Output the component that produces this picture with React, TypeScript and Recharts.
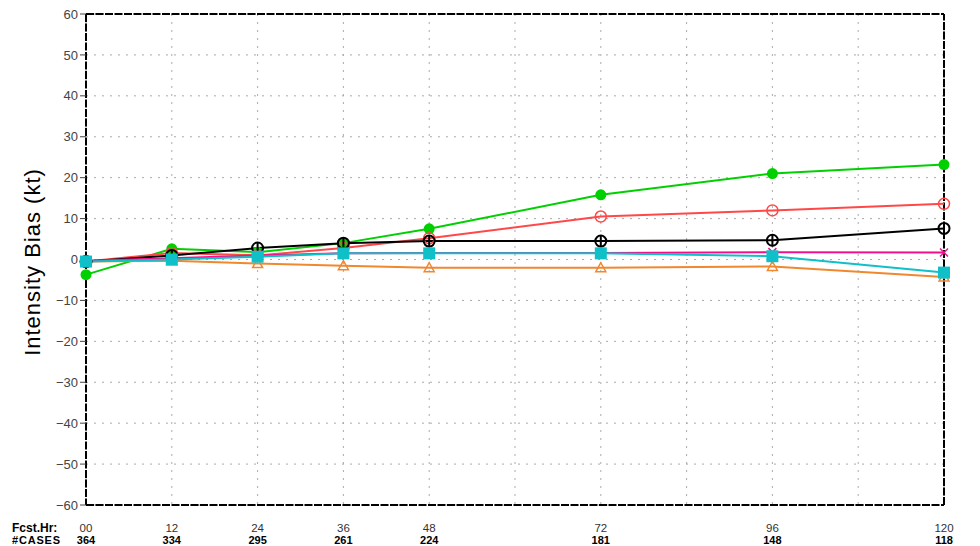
import React from 'react';
import { LineChart, Line, XAxis, YAxis, CartesianGrid, ReferenceLine } from 'recharts';

const HOURS = [0, 12, 24, 36, 48, 72, 96, 120];
const HOUR_LABELS = ['00', '12', '24', '36', '48', '72', '96', '120'];
const CASES = [364, 334, 295, 261, 224, 181, 148, 118];
const GRID_HOURS = [0, 12, 24, 36, 48, 60, 72, 84, 96, 108, 120];
const Y_TICKS = [-60, -50, -40, -30, -20, -10, 0, 10, 20, 30, 40, 50, 60];

const GREEN = [-3.7, 2.6, 1.8, 4, 7.5, 15.8, 21, 23.2];
const RED = [-0.5, 1.6, 1, 2.8, 5.2, 10.5, 12, 13.6];
const BLACK = [-0.5, 1, 2.8, 4, 4.5, 4.5, 4.7, 7.6];
const ORANGE = [-0.5, -0.3, -1, -1.5, -2, -2, -1.7, -4.3];
const MAGENTA = [-0.3, 0.3, 1, 1.5, 1.6, 1.6, 1.8, 1.7];
const CYAN = [-0.5, 0, 0.7, 1.5, 1.5, 1.5, 0.8, -3.2];

const data = HOURS.map((h, i) => ({
  h, green: GREEN[i], red: RED[i], black: BLACK[i],
  orange: ORANGE[i], magenta: MAGENTA[i], cyan: CYAN[i],
}));

const C = {
  green: '#00d000', red: '#ff4848', black: '#000000',
  orange: '#f08830', magenta: '#f0108c', cyan: '#10c0c8',
};

const FONT = '"Liberation Sans", Arial, sans-serif';

const FilledCircle = (color: string) => (p: any) =>
  <circle key={p.index} cx={p.cx} cy={p.cy} r={5.5} fill={color} stroke="none" />;
const OpenCircle = (color: string) => (p: any) =>
  <circle key={p.index} cx={p.cx} cy={p.cy} r={5.5} fill="none" stroke={color} strokeWidth={1.5} />;
const ThetaDot = (color: string) => (p: any) => (
  <g key={p.index}>
    <circle cx={p.cx} cy={p.cy} r={5.5} fill="none" stroke={color} strokeWidth={2} />
    <line x1={p.cx} y1={p.cy - 6} x2={p.cx} y2={p.cy + 6} stroke={color} strokeWidth={2} />
  </g>
);
const CrossDot = (color: string) => (p: any) => (
  <g key={p.index}>
    <line x1={p.cx - 4} y1={p.cy - 4} x2={p.cx + 4} y2={p.cy + 4} stroke={color} strokeWidth={1.5} />
    <line x1={p.cx - 4} y1={p.cy + 4} x2={p.cx + 4} y2={p.cy - 4} stroke={color} strokeWidth={1.5} />
  </g>
);
const SquareDot = (color: string) => (p: any) =>
  <rect key={p.index} x={p.cx - 6} y={p.cy - 6} width={12} height={12} fill={color} />;
const TriangleDot = (color: string) => (p: any) => (
  <polygon key={p.index}
    points={`${p.cx},${p.cy - 5} ${p.cx - 5},${p.cy + 4} ${p.cx + 5},${p.cy + 4}`}
    fill="none" stroke={color} strokeWidth={1.5} />
);

// two rows under the axis: forecast hour and number of cases
const HourTick = (props: any) => {
  const { x, y, payload } = props;
  const i = HOURS.indexOf(payload.value);
  if (i < 0) return null;
  return (
    <g>
      {i === 0 && (
        <>
          <text x={12} y={y + 18.5} fontFamily={FONT} fontSize={12} fontWeight="bold" fill="#000">Fcst.Hr:</text>
          <text x={12} y={y + 31} fontFamily={FONT} fontSize={11} fontWeight="bold" fill="#000" letterSpacing={0.8}>#CASES</text>
        </>
      )}
      <text x={x} y={y + 18.5} textAnchor="middle" fontFamily={FONT} fontSize={11.5} fill="#333">{HOUR_LABELS[i]}</text>
      <text x={x} y={y + 31} textAnchor="middle" fontFamily={FONT} fontSize={11} fontWeight="bold" fill="#000">{CASES[i]}</text>
    </g>
  );
};

const borderLine = { stroke: '#000', strokeWidth: 2, strokeDasharray: '8 1.5' };

export default function App() {
  return (
    <div style={{ position: 'absolute', left: 0, top: 0, width: 980, height: 546, background: '#fff' }}>
      <LineChart width={980} height={546} data={data} margin={{ top: 14, right: 36, bottom: 0, left: 0 }}>
        <CartesianGrid stroke="#aaaaaa" strokeDasharray="2 6" />
        <XAxis dataKey="h" type="number" domain={[0, 120]} ticks={GRID_HOURS}
          height={41} axisLine={borderLine} tickLine={false} tick={<HourTick />} interval={0} />
        <YAxis type="number" domain={[-60, 60]} ticks={Y_TICKS} width={86}
          axisLine={borderLine} tickLine={{ stroke: '#444' }} tickSize={6}
          tick={{ fontFamily: FONT, fontSize: 13, fill: '#444' }}
          tickFormatter={(v: number) => String(v).replace('-', '\u2212')} />
        <ReferenceLine y={60} stroke="#000" strokeWidth={2} strokeDasharray="8 1.5" />
        <ReferenceLine x={120} stroke="#000" strokeWidth={2} strokeDasharray="8 1.5" />
        <Line type="linear" dataKey="green" stroke={C.green} strokeWidth={2} dot={FilledCircle(C.green)} isAnimationActive={false} />
        <Line type="linear" dataKey="red" stroke={C.red} strokeWidth={2} dot={OpenCircle(C.red)} isAnimationActive={false} />
        <Line type="linear" dataKey="black" stroke={C.black} strokeWidth={2} dot={ThetaDot(C.black)} isAnimationActive={false} />
        <Line type="linear" dataKey="orange" stroke={C.orange} strokeWidth={2} dot={TriangleDot(C.orange)} isAnimationActive={false} />
        <Line type="linear" dataKey="magenta" stroke={C.magenta} strokeWidth={2} dot={CrossDot(C.magenta)} isAnimationActive={false} />
        <Line type="linear" dataKey="cyan" stroke={C.cyan} strokeWidth={2} dot={SquareDot(C.cyan)} isAnimationActive={false} />
        <text x={32} y={262} transform="rotate(-90, 32, 262)" textAnchor="middle" dominantBaseline="central"
          fontFamily={FONT} fontSize={22} fill="#000" letterSpacing={1}>Intensity Bias  (kt)</text>
      </LineChart>
    </div>
  );
}
